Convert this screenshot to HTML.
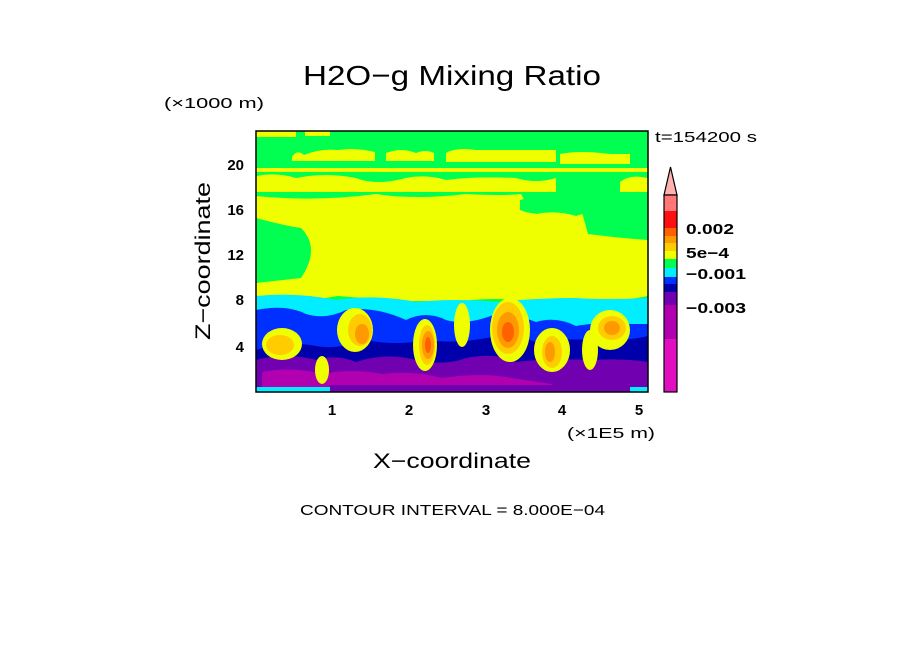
<!DOCTYPE html>
<html><head><meta charset="utf-8"><style>
body{margin:0;background:#fff;}
svg{display:block;font-family:"Liberation Sans",sans-serif;}
</style></head><body>
<svg width="904" height="654" viewBox="0 0 904 654">
<text x="303" y="85" font-size="28" textLength="298" lengthAdjust="spacingAndGlyphs">H2O−g Mixing Ratio</text>
<text x="164" y="108" font-size="15" textLength="100" lengthAdjust="spacingAndGlyphs">(×1000 m)</text>
<text x="655" y="142" font-size="15" textLength="102" lengthAdjust="spacingAndGlyphs">t=154200 s</text>
<defs><clipPath id="c"><rect x="256" y="131" width="392" height="261"/></clipPath></defs>
<g clip-path="url(#c)">
<rect x="256" y="131" width="392" height="261" fill="#00ff50"/>
<path d="M256 131h40v6h-40zM305 131h25v5h-25z" fill="#f0ff00"/>
<path d="M292 157q5-8 12-2q20-8 40-4q10 8 10 10h-62zM330 152q20-6 45 0v9h-45zM386 153q15-6 30 0q10-4 18 0v8h-48zM446 153q10-6 30-3h80v12h-110zM560 154q20-4 50 0l20 0v10h-70z" fill="#f0ff00"/>
<path d="M256 168h392v4h-392z" fill="#f0ff00"/>
<path d="M256 176q20-4 40 2q30-6 60 0q20 8 50 0q20-4 40 2q30-4 70-2q20 6 40 0v14h-300zM620 182q10-8 28-4v14h-28z" fill="#f0ff00"/>
<path d="M256 196q60 6 120-2q40 6 90 0q40 2 55 0q5 10 15 20q20-4 40 2q30-10 72 0v80q-30 6-50 4q-30-4-60 2q-50-6-80 0q-40-2-60 0q-30-4-60-6q-30 6-82 0z" fill="#f0ff00"/>
<path d="M256 218q30 8 45 10q20 20 0 50l-45 5z" fill="#00ff50"/>
<path d="M520 200q20-6 35 0q-10 20-35 10zM580 205q30 0 68 0v35q-30-2-60-6z" fill="#00ff50"/>
<path d="M256 296q40-4 80 4q40-6 80 2q40-4 80 0q40-4 80-4q30 2 72 0v96h-392z" fill="#00eeff"/>
<path d="M256 310q30-6 50 4q20 6 40 -4q30-4 60 10q20-10 40 0q20 6 50-6q20 0 40 8q20-6 40 4q20-4 56-2H648V392H256Z" fill="#0030ff"/>
<path d="M256 350q30-10 60 -4q20 4 50 -6q30 6 60 0q30 4 60 -2q30-4 50 4q20 -4 56 -2q30 2 56 -4V392H256Z" fill="#0000aa"/>
<path d="M256 360q30-8 60 0q20-6 40 2q30-10 60 -2q30 6 50 -2q30 -6 50 4q30-4 76 -2q30 -2 56 2V392H256Z" fill="#7000b0"/>
<path d="M262 372q30-6 60 2q30-6 60 0q30-4 60 4q40-6 70 0l40 6v6h-290z" fill="#b000b0"/>
<rect x="256" y="387" width="392" height="5" fill="#00eeff"/>
<rect x="330" y="385" width="300" height="7" fill="#7000b0"/>
<g fill="#f0ff00">
<ellipse cx="282" cy="344" rx="20" ry="16"/><ellipse cx="355" cy="330" rx="18" ry="22"/>
<ellipse cx="425" cy="345" rx="12" ry="26"/><ellipse cx="462" cy="325" rx="8" ry="22"/>
<ellipse cx="510" cy="330" rx="20" ry="32"/><ellipse cx="552" cy="350" rx="18" ry="22"/>
<ellipse cx="610" cy="330" rx="20" ry="20"/><ellipse cx="322" cy="370" rx="7" ry="14"/>
<ellipse cx="590" cy="350" rx="8" ry="20"/>
</g>
<g fill="#ffcc00">
<ellipse cx="280" cy="345" rx="14" ry="10"/><ellipse cx="360" cy="330" rx="12" ry="16"/>
<ellipse cx="427" cy="345" rx="8" ry="20"/><ellipse cx="508" cy="328" rx="16" ry="26"/>
<ellipse cx="552" cy="352" rx="10" ry="16"/><ellipse cx="612" cy="328" rx="14" ry="12"/>
</g>
<g fill="#ff9900">
<ellipse cx="362" cy="334" rx="7" ry="10"/><ellipse cx="428" cy="345" rx="6" ry="14"/>
<ellipse cx="508" cy="330" rx="11" ry="18"/><ellipse cx="550" cy="352" rx="5" ry="10"/><ellipse cx="612" cy="328" rx="8" ry="7"/>
</g>
<g fill="#ff6000"><ellipse cx="428" cy="345" rx="3" ry="8"/><ellipse cx="508" cy="332" rx="6" ry="10"/></g>
</g>
<rect x="256" y="131" width="392" height="261" fill="none" stroke="#000" stroke-width="1.5"/>
<path d="M664 195 L670.5 167 L677 195Z" fill="#ffb0b0" stroke="#000" stroke-width="1.2"/>
<rect x="664" y="195" width="13" height="16" fill="#ff7777"/>
<rect x="664" y="211" width="13" height="17" fill="#ff1010"/>
<rect x="664" y="228" width="13" height="8" fill="#ff6000"/>
<rect x="664" y="236" width="13" height="7" fill="#ff9900"/>
<rect x="664" y="243" width="13" height="8" fill="#ffcc00"/>
<rect x="664" y="251" width="13" height="8" fill="#f0ff00"/>
<rect x="664" y="259" width="13" height="9" fill="#00ff50"/>
<rect x="664" y="268" width="13" height="9" fill="#00eeff"/>
<rect x="664" y="277" width="13" height="7" fill="#0030ff"/>
<rect x="664" y="284" width="13" height="8" fill="#0000aa"/>
<rect x="664" y="292" width="13" height="13" fill="#7000b0"/>
<rect x="664" y="305" width="13" height="34" fill="#b000b0"/>
<rect x="664" y="339" width="13" height="53" fill="#e010c0"/>
<rect x="664" y="195" width="13" height="197" fill="none" stroke="#000" stroke-width="1.2"/>
<g font-size="15" font-weight="bold">
<text x="686" y="234" textLength="48" lengthAdjust="spacingAndGlyphs">0.002</text>
<text x="686" y="258" textLength="43" lengthAdjust="spacingAndGlyphs">5e−4</text>
<text x="686" y="279" textLength="60" lengthAdjust="spacingAndGlyphs">−0.001</text>
<text x="686" y="313" textLength="60" lengthAdjust="spacingAndGlyphs">−0.003</text>
</g>
<g font-size="15" text-anchor="end" font-weight="bold">
<text x="244" y="170">20</text><text x="244" y="215">16</text><text x="244" y="260">12</text>
<text x="244" y="305">8</text><text x="244" y="352">4</text>
</g>
<g font-size="15" text-anchor="middle" font-weight="bold">
<text x="332" y="415">1</text><text x="409" y="415">2</text><text x="486" y="415">3</text>
<text x="562" y="415">4</text><text x="639" y="415">5</text>
</g>
<text x="567" y="438" font-size="15" textLength="88" lengthAdjust="spacingAndGlyphs">(×1E5 m)</text>
<text x="373" y="468" font-size="21" textLength="158" lengthAdjust="spacingAndGlyphs">X−coordinate</text>
<text transform="translate(210,340) rotate(-90)" font-size="21" textLength="158" lengthAdjust="spacingAndGlyphs">Z−coordinate</text>
<text x="300" y="515" font-size="15" textLength="305" lengthAdjust="spacingAndGlyphs">CONTOUR INTERVAL = 8.000E−04</text>
</svg>
</body></html>
